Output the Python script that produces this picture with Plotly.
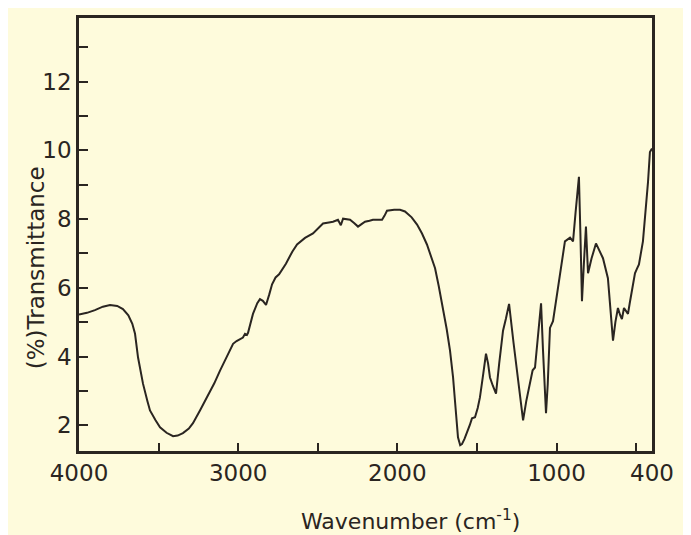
import plotly.graph_objects as go

wavenumber = [4000, 3950, 3900, 3850, 3805, 3760, 3724, 3690, 3665, 3648, 3629, 3598, 3570, 3554,
              3520, 3491, 3450, 3409, 3380, 3347, 3310, 3284, 3240, 3196, 3150, 3114, 3070, 3032,
              3010, 2989, 2970, 2957, 2945, 2938, 2925, 2907, 2880, 2863, 2845, 2825, 2805, 2787,
              2765, 2743, 2700, 2660, 2630, 2580, 2530, 2500, 2467, 2430, 2404, 2373, 2355, 2341,
              2320, 2297, 2270, 2247, 2225, 2203, 2175, 2153, 2120, 2096, 2080, 2065, 2020, 1983,
              1952, 1910, 1876, 1845, 1814, 1790, 1763, 1740, 1713, 1690, 1669, 1650, 1638, 1625,
              1619, 1605, 1594, 1578, 1562, 1545, 1531, 1512, 1495, 1481, 1460, 1443, 1430, 1418,
              1400, 1380, 1360, 1336, 1318, 1298, 1270, 1240, 1210, 1190, 1167, 1150, 1135, 1115,
              1097, 1085, 1066, 1055, 1041, 1022, 985, 947, 915, 896, 880, 859, 850, 840, 828, 815,
              802, 780, 752, 730, 708, 677, 660, 645, 630, 614, 600, 589, 576, 563, 551, 540, 526,
              507, 495, 482, 457, 440, 425, 413, 400]

transmittance = [5.22, 5.27, 5.35, 5.45, 5.50, 5.47, 5.38, 5.20, 4.95, 4.66, 3.97, 3.21, 2.70, 2.43,
                 2.15, 1.94, 1.78, 1.68, 1.70, 1.77, 1.90, 2.06, 2.43, 2.81, 3.22, 3.59, 4.00, 4.37,
                 4.45, 4.51, 4.55, 4.66, 4.63, 4.69, 4.95, 5.24, 5.55, 5.67, 5.62, 5.50, 5.80, 6.10,
                 6.30, 6.39, 6.70, 7.05, 7.26, 7.45, 7.58, 7.72, 7.87, 7.90, 7.92, 7.98, 7.82, 8.01,
                 8.00, 7.98, 7.88, 7.78, 7.85, 7.92, 7.95, 7.98, 7.98, 7.98, 8.10, 8.24, 8.27, 8.27,
                 8.22, 8.05, 7.84, 7.58, 7.26, 6.95, 6.57, 6.05, 5.41, 4.80, 4.17, 3.40, 2.72, 2.00,
                 1.65, 1.42, 1.45, 1.60, 1.77, 2.00, 2.20, 2.23, 2.50, 2.81, 3.50, 4.08, 3.80, 3.39,
                 3.15, 2.92, 3.80, 4.75, 5.10, 5.53, 4.40, 3.20, 2.14, 2.70, 3.21, 3.60, 3.68, 4.60,
                 5.55, 4.20, 2.35, 3.20, 4.83, 5.03, 6.20, 7.35, 7.46, 7.35, 8.20, 9.23, 7.60, 5.61,
                 6.70, 7.78, 6.42, 6.85, 7.29, 7.05, 6.86, 6.28, 5.40, 4.46, 5.00, 5.41, 5.20, 5.09,
                 5.41, 5.30, 5.24, 5.55, 5.90, 6.42, 6.55, 6.68, 7.35, 8.20, 9.08, 9.95, 10.05]

x_tickvals = [4000, 3500, 3000, 2500, 2000, 1500, 1000, 500, 400]
x_ticktext = ["4000", "", "3000", "", "2000", "", "1000", "", "400"]
y_tickvals = [2, 3, 4, 5, 6, 7, 8, 9, 10, 11, 12, 13]
y_ticktext = ["2", "", "4", "", "6", "", "8", "", "10", "", "12", ""]

ink = "#2a2521"
bg = "#fefbdc"
font_family = "'DejaVu Sans', sans-serif"

fig = go.Figure()
fig.add_trace(go.Scatter(x=wavenumber, y=transmittance, mode="lines",
                         line=dict(color=ink, width=2), showlegend=False,
                         hoverinfo="skip"))

fig.update_layout(
    width=691, height=535,
    margin=dict(l=71, r=47, t=7, b=92),
    paper_bgcolor=bg, plot_bgcolor=bg,
    font=dict(family=font_family, color=ink),
    xaxis=dict(range=[4000, 400], tickvals=x_tickvals, ticktext=x_ticktext,
               ticks="inside", ticklen=8, tickwidth=2, tickcolor=ink,
               showline=True, linewidth=2.5, linecolor=ink, mirror=True,
               showgrid=False, zeroline=False,
               tickfont=dict(size=23, color=ink)),
    yaxis=dict(range=[1.25, 13.85], tickvals=y_tickvals, ticktext=y_ticktext,
               ticks="inside", ticklen=9, tickwidth=2, tickcolor=ink,
               showline=True, linewidth=2.5, linecolor=ink, mirror=True,
               showgrid=False, zeroline=False,
               tickfont=dict(size=23, color=ink)),
    annotations=[
        dict(text="Wavenumber (cm<sup>-1</sup>)", xref="paper", yref="paper",
             x=(410 - 79) / 573, y=-(520 - 451) / 436, showarrow=False,
             xanchor="center", yanchor="middle", font=dict(size=22, color=ink)),
        dict(text="(%)Transmittance", xref="paper", yref="paper",
             x=-(79 - 36) / 573, y=(451 - 267) / 436, showarrow=False,
             textangle=-90, xanchor="center", yanchor="middle",
             font=dict(size=23, color=ink)),
    ],
)

fig.write_html("out.html")
